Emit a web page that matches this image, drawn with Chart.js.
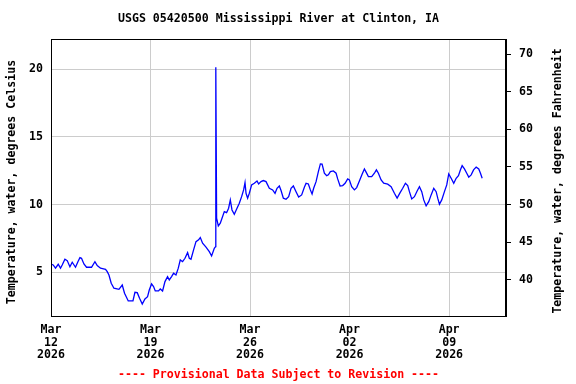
<!DOCTYPE html>
<html>
<head>
<meta charset="utf-8">
<script src="https://cdn.jsdelivr.net/npm/chart.js@4"></script>
<style>
  body { margin: 0; background: #fff; }
  canvas { display: block; }
</style>
</head>
<body>
<canvas id="tempChart" width="576" height="384"></canvas>
<script>
// days since Mar 12 2026 00:00
const days = [
  0.00, 0.155, 0.317, 0.507, 0.669, 0.788, 0.978, 1.140, 1.330, 1.492,
  1.724, 1.893, 2.034, 2.146, 2.315, 2.498, 2.850, 3.089, 3.251, 3.483,
  3.835, 3.955, 4.075, 4.236, 4.426, 4.778, 5.011, 5.172, 5.433, 5.764,
  5.904, 6.066, 6.228, 6.418, 6.608, 6.791, 6.911, 7.073, 7.213, 7.333,
  7.565, 7.685, 7.847, 8.016, 8.198, 8.318, 8.480, 8.621, 8.790, 8.952,
  9.092, 9.254, 9.423, 9.606, 9.726, 9.845, 10.028, 10.197, 10.380, 10.500,
  10.662, 10.901, 11.133, 11.295, 11.485, 11.577, 11.591, 11.647, 11.767, 11.907,
  12.027, 12.189, 12.351, 12.491, 12.611, 12.730, 12.892, 13.082, 13.244, 13.406,
  13.547, 13.645, 13.716, 13.828, 13.948, 14.110, 14.300, 14.490, 14.603, 14.771,
  14.933, 15.123, 15.355, 15.588, 15.756, 15.897, 16.059, 16.179, 16.341, 16.531,
  16.714, 16.882, 17.044, 17.234, 17.417, 17.629, 17.819, 17.938, 18.100, 18.241,
  18.361, 18.473, 18.642, 18.804, 18.945, 19.064, 19.226, 19.388, 19.508, 19.648,
  19.859, 20.049, 20.162, 20.331, 20.514, 20.683, 20.866, 20.985, 21.147, 21.337,
  21.499, 21.689, 21.879, 22.041, 22.161, 22.322, 22.555, 22.745, 22.885, 23.026,
  23.216, 23.399, 23.681, 23.920, 24.047, 24.152, 24.342, 24.553, 24.736, 24.926,
  25.088, 25.208, 25.370, 25.560, 25.750, 25.912, 26.074, 26.214, 26.383, 26.566,
  26.735, 26.918, 27.087, 27.199, 27.319, 27.481, 27.671, 27.833, 27.973, 28.142,
  28.325, 28.494, 28.656, 28.797, 28.916, 29.078, 29.240, 29.381, 29.550, 29.719,
  29.902, 30.084, 30.204, 30.324
];

// water temperature, degrees Celsius
const tempC = [
  5.61, 5.54, 5.30, 5.59, 5.30, 5.54, 5.96, 5.86, 5.41, 5.74,
  5.37, 5.78, 6.08, 6.03, 5.61, 5.37, 5.37, 5.78, 5.49, 5.30,
  5.22, 5.04, 4.80, 4.19, 3.82, 3.74, 4.06, 3.45, 2.88, 2.88,
  3.52, 3.49, 3.08, 2.66, 3.03, 3.20, 3.69, 4.14, 3.94, 3.62,
  3.62, 3.77, 3.62, 4.31, 4.68, 4.43, 4.68, 4.93, 4.80, 5.30,
  5.91, 5.78, 6.03, 6.45, 6.03, 5.96, 6.65, 7.26, 7.39, 7.56,
  7.14, 6.85, 6.52, 6.20, 6.77, 6.89, 20.14, 8.99, 8.42, 8.62,
  8.99, 9.48, 9.40, 9.73, 10.34, 9.60, 9.28, 9.73, 10.10, 10.58,
  11.08, 11.62, 10.83, 10.47, 10.83, 11.45, 11.57, 11.74, 11.52, 11.69,
  11.77, 11.69, 11.20, 11.08, 10.83, 11.20, 11.37, 11.03, 10.47, 10.39,
  10.58, 11.20, 11.37, 10.95, 10.55, 10.71, 11.28, 11.57, 11.52, 11.08,
  10.78, 11.20, 11.69, 12.43, 13.00, 12.98, 12.31, 12.13, 12.19, 12.43,
  12.48, 12.31, 11.89, 11.37, 11.40, 11.57, 11.89, 11.82, 11.32, 11.08,
  11.25, 11.74, 12.24, 12.63, 12.39, 12.06, 12.06, 12.31, 12.56, 12.31,
  11.82, 11.57, 11.50, 11.32, 11.05, 10.83, 10.47, 10.88, 11.20, 11.57,
  11.40, 10.95, 10.41, 10.58, 11.00, 11.32, 10.95, 10.34, 9.90, 10.21,
  10.71, 11.20, 10.95, 10.47, 10.02, 10.34, 10.95, 11.45, 12.26, 11.94,
  11.57, 11.94, 12.13, 12.56, 12.87, 12.63, 12.31, 12.02, 12.19, 12.56,
  12.76, 12.63, 12.31, 11.94
];

const tickDays = [0, 7, 14, 21, 28];
const tickLabels = [
  ['Mar', '12', '2026'],
  ['Mar', '19', '2026'],
  ['Mar', '26', '2026'],
  ['Apr', '02', '2026'],
  ['Apr', '09', '2026']
];
const celsiusTicks = [5, 10, 15, 20];
const fahrenheitTicks = [40, 45, 50, 55, 60, 65, 70];

const titleText = 'USGS 05420500 Mississippi River at Clinton, IA';
const noteText = '---- Provisional Data Subject to Revision ----';
const leftTitle = 'Temperature, water, degrees Celsius';
const rightTitle = 'Temperature, water, degrees Fahrenheit';

const yMinC = 1.77;
const yMaxC = 22.22;
const toF = c => c * 1.8 + 32;

const FONT = 'bold 11.6px "DejaVu Sans Mono", monospace';

// frame + texts that the built-in plugins can't place the same way
const decorPlugin = {
    id: 'decor',
    afterDraw(chart) {
        const { ctx, chartArea: a } = chart;
        ctx.save();
        ctx.strokeStyle = '#000';
        ctx.lineWidth = 1;
        ctx.strokeRect(a.left + 0.5, a.top + 0.5, a.right - a.left - 1, a.bottom - a.top);

        ctx.font = FONT;
        ctx.textAlign = 'center';
        ctx.textBaseline = 'middle';
        const cx = (a.left + a.right) / 2;
        ctx.fillStyle = '#000';
        ctx.fillText(titleText, cx, 19);
        ctx.fillStyle = '#ff0000';
        ctx.fillText(noteText, cx, 375);

        ctx.fillStyle = '#000';
        ctx.save();
        ctx.translate(12, 182);
        ctx.rotate(-Math.PI / 2);
        ctx.fillText(leftTitle, 0, 0);
        ctx.restore();
        ctx.save();
        ctx.translate(558, 181);
        ctx.rotate(-Math.PI / 2);
        ctx.fillText(rightTitle, 0, 0);
        ctx.restore();
        ctx.restore();
    }
};

const tickFont = { family: '"DejaVu Sans Mono", monospace', size: 11.6, weight: 'bold', lineHeight: 1.12 };

new Chart(document.getElementById('tempChart').getContext('2d'), {
    type: 'line',
    data: {
        datasets: [{
            data: days.map((d, i) => ({ x: d, y: tempC[i] })),
            borderColor: '#0000ff',
            borderWidth: 1.3,
            pointRadius: 0,
            tension: 0,
            fill: false
        }]
    },
    options: {
        responsive: false,
        animation: false,
        layout: { padding: { top: 39, left: 0, right: 0, bottom: 0 } },
        plugins: {
            legend: { display: false },
            tooltip: { enabled: false }
        },
        scales: {
            x: {
                type: 'linear',
                min: 0,
                max: 32,
                afterBuildTicks: s => { s.ticks = tickDays.map(v => ({ value: v })); },
                afterFit: s => { s.height = 68; },
                ticks: {
                    autoSkip: false,
                    maxRotation: 0,
                    padding: 7,
                    color: '#000',
                    font: tickFont,
                    callback: (v, i) => tickLabels[i]
                },
                grid: { color: '#cccccc', drawTicks: false },
                border: { color: '#000' }
            },
            y: {
                position: 'left',
                min: yMinC,
                max: yMaxC,
                afterBuildTicks: s => { s.ticks = celsiusTicks.map(v => ({ value: v })); },
                afterFit: s => { s.width = 51; },
                ticks: { padding: 8, color: '#000', font: tickFont },
                grid: { color: '#cccccc', drawTicks: false },
                border: { color: '#000' }
            },
            yF: {
                position: 'right',
                min: toF(yMinC),
                max: toF(yMaxC),
                afterBuildTicks: s => { s.ticks = fahrenheitTicks.map(v => ({ value: v })); },
                afterFit: s => { s.width = 70; },
                ticks: { padding: 8, color: '#000', font: tickFont },
                grid: { drawOnChartArea: false, drawTicks: true, tickLength: 5, tickColor: '#000' },
                border: { color: '#000' }
            }
        }
    },
    plugins: [decorPlugin]
});
</script>
</body>
</html>
